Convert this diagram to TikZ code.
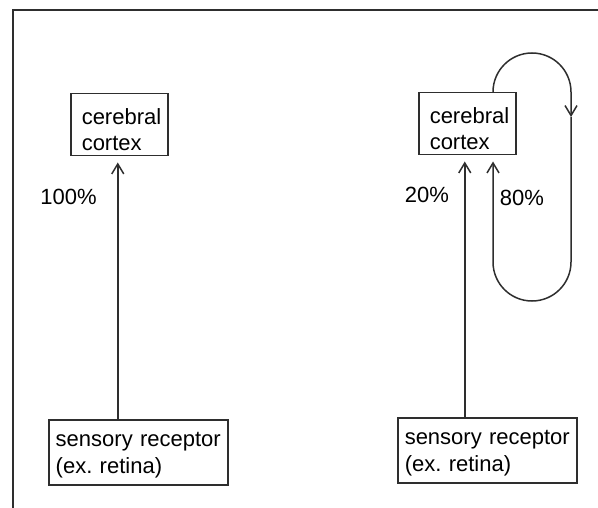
\documentclass[tikz,border=0pt]{standalone}
\usepackage{fontspec}
\setmainfont{Liberation Sans}
\usetikzlibrary{arrows.meta}
\definecolor{linecol}{gray}{0.18}
\begin{document}
\frenchspacing
\begin{tikzpicture}[x=1pt,y=-1pt,
  txt/.style={font=\fontsize{22}{26}\selectfont\frenchspacing, text=black},
  cortexbox/.style={txt, draw=linecol, line width=1.5pt, anchor=north west,
    align=left, text width=75pt, inner xsep=11pt, inner ysep=0pt,
    text height=31pt, text depth=31pt},
  sensebox/.style={txt, draw=linecol, line width=1.5pt, anchor=north west,
    font=\fontsize{22}{27}\selectfont\frenchspacing,
    align=left, text width=165pt, inner xsep=7pt, inner ysep=0pt,
    text height=27pt, text depth=38pt},
  conn/.style={draw=linecol, line width=1.5pt},
  arr/.style={conn, -{Straight Barb[length=10pt,width=12pt]}},
  pct/.style={txt, anchor=base, inner sep=0pt},
  frame/.style={draw=linecol, line width=1.8pt}
]
\useasboundingbox (0,0) rectangle (598,508);
\draw[frame] (13,508) -- (13,10) -- (598,10);

% left diagram
\node[cortexbox] (c1) at (70,93) {\mbox{cerebral}\\\mbox{cortex}};
\node[sensebox] (s1) at (48,419) {\mbox{sensory receptor}\\\mbox{(ex. retina)}};
\coordinate (c1in) at ([xshift=-1.5pt]c1.south);
\draw[arr, shorten >=6pt] (c1in |- s1.north) -- (c1in);
\node[pct] (p100) at (68.5,205) {100\%};

% right diagram
\node[cortexbox] (c2) at (418,92) {\mbox{cerebral}\\\mbox{cortex}};
\node[sensebox] (s2) at (397,417) {\mbox{sensory receptor}\\\mbox{(ex. retina)}};
\coordinate (c2in20) at ([xshift=-2.5pt]c2.south);
\draw[arr, shorten >=6pt] (c2in20 |- s2.north) -- (c2in20);
\node[pct] (p20) at (427,203) {20\%};
\node[pct] (p80) at (522,206) {80\%};

\coordinate (c2out) at ([xshift=75pt]c2.north west);
\coordinate (c2in80) at ([xshift=75pt]c2.south west);
\draw[arr] (c2out) arc[start angle=180, end angle=360, radius=39]
  -- ++(0,25) coordinate (looptip);
\draw[arr, shorten >=6pt] (looptip) -- ++(0,145)
  arc[start angle=0, end angle=180, radius=39] -- (c2in80);
\end{tikzpicture}
\end{document}
